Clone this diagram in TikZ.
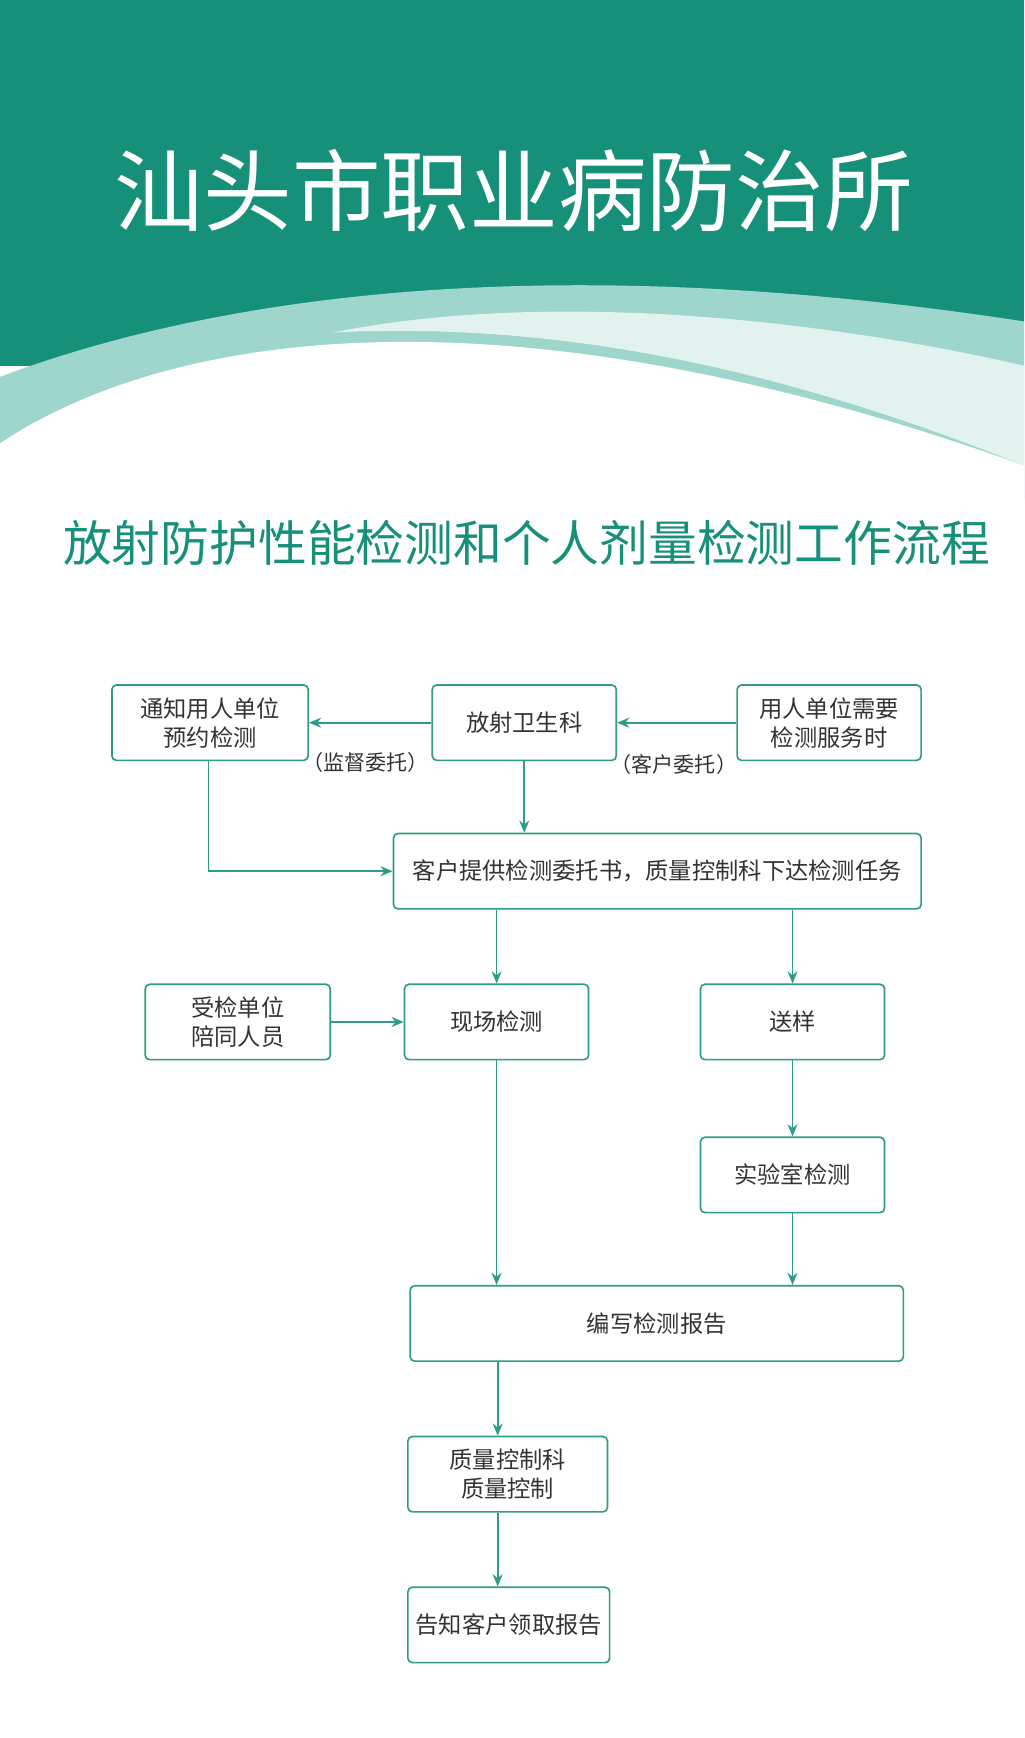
\documentclass[tikz,border=0pt]{standalone}
\usepackage{fontspec}
\newfontfamily\cjk{Noto Sans CJK SC}
\usetikzlibrary{arrows.meta}
\definecolor{teal1}{HTML}{17907A}
\definecolor{teal2}{HTML}{9ED6CB}
\definecolor{bord}{HTML}{2E9C86}
\definecolor{txt}{HTML}{333333}
\tikzset{
 box/.style={draw=bord,line width=1.5pt,rounded corners=4pt,fill=white,font=\cjk\fontsize{21}{26}\selectfont,text=txt,align=center,inner sep=0pt},
 arr/.style={draw=bord,line width=1.5pt,-{Stealth[length=11pt,width=9pt]}},
 lab/.style={font=\cjk\fontsize{19}{23}\selectfont,text=txt}
}
\begin{document}
\begin{tikzpicture}[x=1pt,y=-1pt]
\useasboundingbox (0,0) rectangle (924,1568);
% header
\fill[teal1] (0,0) rectangle (924,330);
\fill[teal2] (0,340) .. controls (200,265) and (500,225) .. (924,290) -- (924,450) -- (0,450) -- cycle;
\fill[white] (0,400) .. controls (150,300) and (450,250) .. (924,420) -- (924,1568) -- (0,1568) -- cycle;
\fill[white!70!teal2] (300,300) .. controls (500,260) and (750,290) .. (924,330) -- (924,420) .. controls (700,330) and (500,290) .. (300,300);
\node[font=\cjk\fontsize{80}{90}\selectfont,text=white,anchor=west] (title) at (100,172) {汕头市职业病防治所};
\node[font=\cjk\fontsize{44}{52}\selectfont,text=teal1] (sub) at (475,490) {放射防护性能检测和个人剂量检测工作流程};
% boxes
\node[box,minimum width=177pt,minimum height=68pt] (tz) at (189.5,652) {通知用人单位\\预约检测};
\node[box,minimum width=166pt,minimum height=68pt] (fs) at (473,652) {放射卫生科};
\node[box,minimum width=166pt,minimum height=68pt] (yr) at (748,652) {用人单位需要\\检测服务时};
\node[box,minimum width=476pt,minimum height=68pt] (kh) at (593,786) {客户提供检测委托书，质量控制科下达检测任务};
\node[box,minimum width=167pt,minimum height=68pt] (sj) at (214.5,922) {受检单位\\陪同人员};
\node[box,minimum width=166pt,minimum height=68pt] (xc) at (448,922) {现场检测};
\node[box,minimum width=166pt,minimum height=68pt] (sy) at (715,922) {送样};
\node[box,minimum width=166pt,minimum height=68pt] (sys) at (715,1060) {实验室检测};
\node[box,minimum width=445pt,minimum height=68pt] (bx) at (592.5,1194) {编写检测报告};
\node[box,minimum width=180pt,minimum height=68pt] (zl) at (458,1330) {质量控制科\\质量控制};
\node[box,minimum width=182pt,minimum height=68pt] (gz) at (459,1466) {告知客户领取报告};
% arrows
\draw[arr] (fs) -- (tz);
\draw[arr] (yr) -- (fs);
\node[lab] (l1) at (330,688) {（监督委托）};
\node[lab] (l2) at (608,690) {（客户委托）};
\draw[arr] (fs) -- (kh.north -| fs);
\draw[arr] (tz.south -| 188,0) |- (kh.west);
\draw[arr] (kh.south -| xc) -- (xc);
\draw[arr] (kh.south -| sy) -- (sy);
\draw[arr] (sj) -- (xc);
\draw[arr] (sy) -- (sys);
\draw[arr] (xc) -- (bx.north -| xc);
\draw[arr] (sys) -- (bx.north -| sys);
\draw[arr] (bx.south -| 449,0) -- (zl.north -| 449,0);
\draw[arr] (zl.south -| 449,0) -- (gz.north -| 449,0);
\end{tikzpicture}
\end{document}
